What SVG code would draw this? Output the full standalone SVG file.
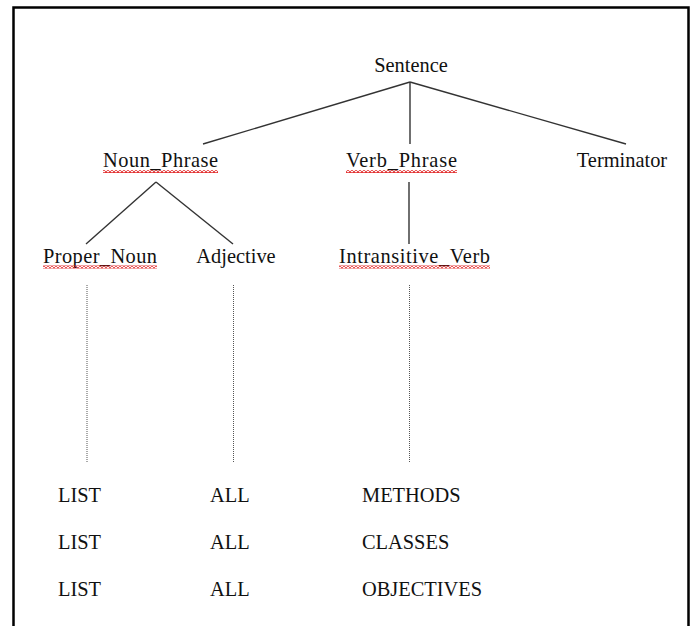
<svg xmlns="http://www.w3.org/2000/svg" width="694" height="626" viewBox="0 0 694 626">
<style>
text{font-family:"Liberation Serif","Times New Roman",serif;font-size:20.4px;fill:#111}
.c{text-anchor:middle}
.edge{stroke:#333;stroke-width:1.4;fill:none}
.dot{stroke:#555;stroke-width:1;stroke-dasharray:1 1;fill:none}
</style>
<defs>
<pattern id="wavy" patternUnits="userSpaceOnUse" x="0" y="0" width="4" height="3">
<path d="M0,2.5 L2,0.5 L4,2.5" stroke="#e01818" stroke-width="1.1" fill="none"/>
</pattern>
</defs>
<rect width="694" height="626" fill="#fff"/>
<path d="M13.5,626 V7.5 H688.5 V626" fill="none" stroke="#000" stroke-width="2.5"/>
<g id="connectors">
<line class="edge" x1="410" y1="82" x2="203" y2="144"/>
<line class="edge" x1="410" y1="82" x2="410" y2="144"/>
<line class="edge" x1="410" y1="82" x2="626" y2="144"/>
<line class="edge" x1="156" y1="182" x2="86" y2="244"/>
<line class="edge" x1="156" y1="182" x2="233" y2="244"/>
<line class="edge" x1="409" y1="182" x2="409" y2="244"/>
<line class="dot" x1="87" y1="285" x2="87" y2="462"/>
<line class="dot" x1="233.5" y1="285" x2="233.5" y2="462"/>
<line class="dot" x1="409.5" y1="285" x2="409.5" y2="462"/>
</g>
<g id="sentence"><text class="c" x="411" y="72">Sentence</text></g>
<g id="noun_phrase"><text x="103" y="167" textLength="115">Noun_Phrase</text><rect x="103" y="170" width="115" height="3" fill="url(#wavy)"/></g>
<g id="verb_phrase"><text x="346" y="167" textLength="111">Verb_Phrase</text><rect x="346" y="170" width="111" height="3" fill="url(#wavy)"/></g>
<g id="terminator"><text class="c" x="622" y="167">Terminator</text></g>
<g id="proper_noun"><text x="43" y="263" textLength="114">Proper_Noun</text><rect x="43" y="265.5" width="114" height="3" fill="url(#wavy)"/></g>
<g id="adjective"><text class="c" x="236" y="263">Adjective</text></g>
<g id="intransitive_verb"><text x="339" y="263" textLength="151">Intransitive_Verb</text><rect x="339" y="265.5" width="151" height="3" fill="url(#wavy)"/></g>
<g id="words">
<text x="58" y="502">LIST</text>
<text x="58" y="549">LIST</text>
<text x="58" y="596">LIST</text>
<text x="210" y="502">ALL</text>
<text x="210" y="549">ALL</text>
<text x="210" y="596">ALL</text>
<text x="362" y="502">METHODS</text>
<text x="362" y="549">CLASSES</text>
<text x="362" y="596">OBJECTIVES</text>
</g>
</svg>
